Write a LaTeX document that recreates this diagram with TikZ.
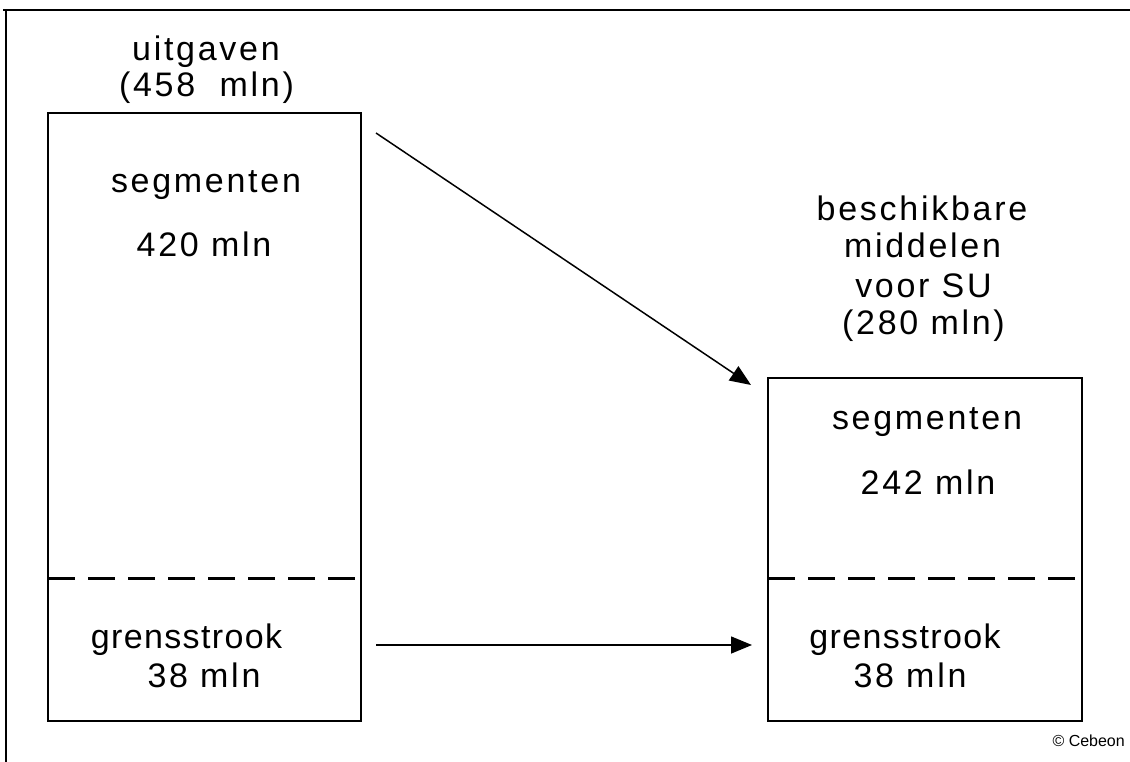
\documentclass[tikz,border=0pt]{standalone}
\usepackage{fontspec}
\setmainfont{Liberation Sans}
\newfontfamily\smallfont{Liberation Sans}
\usetikzlibrary{arrows.meta}
\begin{document}
\begin{tikzpicture}[x=1pt,y=-1pt,
  lbl/.style={anchor=base,font=\fontsize{34}{40}\selectfont\addfontfeature{LetterSpace=#1},inner sep=0pt},
  lbl/.default=8,
  box/.style={draw,line width=1.5pt,inner sep=0pt},
  dline/.style={line width=3pt,dash pattern=on 27pt off 13pt},
  arr/.style={line width=1.5pt,-{Triangle[length=21pt,width=17pt]}},
  frame/.style={line width=2.5pt}]
\useasboundingbox (0,0) rectangle (1130,762);
% frame
\coordinate (ftl) at (6,10);
\coordinate (ftr) at (1130,10);
\coordinate (fbl) at (6,762);
\draw[frame] (ftr) -- (3,10);
\draw[frame] (ftl) -- (fbl);
% boxes
\node[box,minimum width=313pt,minimum height=608pt] (L) at (204.5,417) {};
\node[box,minimum width=314pt,minimum height=343pt] (R) at (925,549.5) {};
% dashed lines
\coordinate (ld1) at (48,578);
\coordinate (ld2) at (361,578);
\coordinate (rd1) at (768,578);
\coordinate (rd2) at (1082,578);
\draw[dline] (ld1) -- (ld2);
\draw[dline] (rd1) -- (rd2);
% arrows
\coordinate (a1s) at (376,133);
\coordinate (a1e) at (751,385);
\coordinate (a2s) at (376,645);
\coordinate (a2e) at (752,645);
\draw[arr] (a1s) -- (a1e);
\draw[arr] (a2s) -- (a2e);
% labels left
\node[lbl] (t1) at (206,61) {uitgaven};
\node[lbl] (t2) at (206.5,97) {(458\ \ mln)};
\node[lbl] (t3) at (206,193) {segmenten};
\node[lbl] (t4) at (204,256) {420 mln};
\node[lbl=4] (t5) at (186.5,648) {grensstrook};
\node[lbl] (t6) at (204,687) {38 mln};
% labels right
\node[lbl] (r1) at (922,221) {beschikbare};
\node[lbl] (r2) at (922.5,258) {middelen};
\node[lbl] (r3) at (923.5,297) {voor SU};
\node[lbl] (r4) at (923.5,334) {(280 mln)};
\node[lbl] (r5) at (927,429) {segmenten};
\node[lbl] (r6) at (928,494) {242 mln};
\node[lbl=4] (r7) at (905,648) {grensstrook};
\node[lbl] (r8) at (910,687) {38 mln};
% copyright
\node[anchor=base east,inner sep=0pt,font=\smallfont\fontsize{16}{18}\selectfont] (c) at (1125,746) {© Cebeon};
\end{tikzpicture}
\end{document}
